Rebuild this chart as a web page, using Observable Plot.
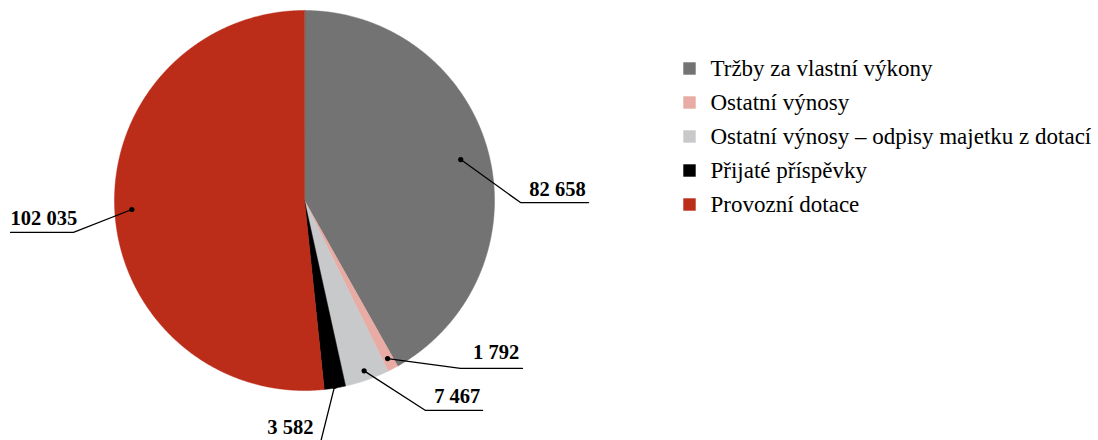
<!DOCTYPE html>
<html><head><meta charset="utf-8">
<script src="https://cdn.jsdelivr.net/npm/d3@7"></script>
<script src="https://cdn.jsdelivr.net/npm/@observablehq/plot@0.6"></script>
<style>body{margin:0;background:#fff}</style>
</head><body><div id="chart"></div>
<script>
// ---- data ----
const categories = ["Tržby za vlastní výkony", "Ostatní výnosy", "Ostatní výnosy – odpisy majetku z dotací", "Přijaté příspěvky", "Provozní dotace"];
const values = [82658, 1792, 7467, 3582, 102035];
const colors = ["#737373", "#e8aca4", "#c8c9cb", "#000000", "#bb2c19"];

// ---- layout (radius units, pie centre = 0,0) ----
const W = 1098, H = 440, CX = 304, CY = 200, R = 190;
const labelLayout = [
  {dotR: 0.85, ex: 1.137, ey: -0.011, endX: 1.495, textX: 1.480, anchor: "end", dy: -7},
  {dotR: 0.94, ex: 0.821, ey: -0.884, endX: 1.147, textX: 1.130, anchor: "end", dy: -9},
  {dotR: 0.95, ex: 0.637, ey: -1.105, endX: 0.937, textX: 0.925, anchor: "end", dy: -7},
  {dotR: 0.99, ex: 0.079, ey: -1.295, endX: -0.242, textX: 0.047, anchor: "end", dy: -13},
  {dotR: 0.91, ex: -1.216, ey: -0.168, endX: -1.547, textX: -1.547, anchor: "start", dy: -7}
];
const legendX = (689 - CX) / R, legendTextX = (710 - CX) / R;
const legendY = i => (CY - (68 + 34 * i)) / R;

const fmt = d3.formatLocale({thousands: "\u00a0", grouping: [3], decimal: ","}).format(",d");
const total = d3.sum(values);
let acc = 0;
const slices = values.map((v, i) => {
  const a0 = acc / total * 2 * Math.PI; acc += v;
  const a1 = acc / total * 2 * Math.PI;
  return {i, a0, a1, mid: (a0 + a1) / 2};
});
const pt = (a, r) => ({x: r * Math.sin(a), y: r * Math.cos(a)});
const slicePolys = slices.map(s => {
  const n = Math.max(2, Math.ceil((s.a1 - s.a0) / 0.005));
  const pts = [{x: 0, y: 0}];
  for (let k = 0; k <= n; k++) pts.push(pt(s.a0 + (s.a1 - s.a0) * k / n, 1));
  return pts;
});
const dots = slices.map((s, i) => pt(s.mid, labelLayout[i].dotR));
const leaders = [];
slices.forEach((s, i) => {
  const L = labelLayout[i];
  leaders.push({i, ...dots[i]}, {i, x: L.ex, y: L.ey}, {i, x: L.endX, y: L.ey});
});
const labels = slices.map((s, i) => {
  const L = labelLayout[i];
  return {x: L.textX, y: L.ey, text: fmt(values[i]), anchor: L.anchor, dy: L.dy};
});
const legend = categories.map((c, i) => ({c, i, y: legendY(i)}));

const font = "'Liberation Serif', 'DejaVu Serif', serif";
const marks = [];
slicePolys.forEach((p, i) => marks.push(Plot.line(p, {x: "x", y: "y", curve: "linear-closed", fill: colors[i], stroke: colors[i], strokeWidth: 0.5})));
marks.push(Plot.line(leaders, {x: "x", y: "y", z: "i", stroke: "#000", strokeWidth: 1.3}));
marks.push(Plot.dot(dots, {x: "x", y: "y", r: 2.6, fill: "#000"}));
labels.forEach(l => {
  marks.push(Plot.text([l], {x: "x", y: "y", text: "text", textAnchor: l.anchor, dy: l.dy, lineAnchor: "bottom", fontSize: 20.5, fontWeight: "bold", fill: "#000", fontFamily: font}));
});
marks.push(Plot.dot(legend, {x: legendX, y: "y", symbol: "square", r: 7, fill: d => colors[d.i]}));
marks.push(Plot.text(legend, {x: legendTextX, y: "y", text: "c", textAnchor: "start", fontSize: 23, fill: "#000", fontFamily: font}));

const chart = Plot.plot({
  width: W, height: H, margin: 0,
  x: {domain: [-CX / R, (W - CX) / R], range: [0, W]},
  y: {domain: [-(H - CY) / R, CY / R], range: [H, 0]},
  axis: null,
  style: {background: "#fff", overflow: "hidden"},
  marks
});
document.getElementById("chart").append(chart);
</script>
</body></html>
